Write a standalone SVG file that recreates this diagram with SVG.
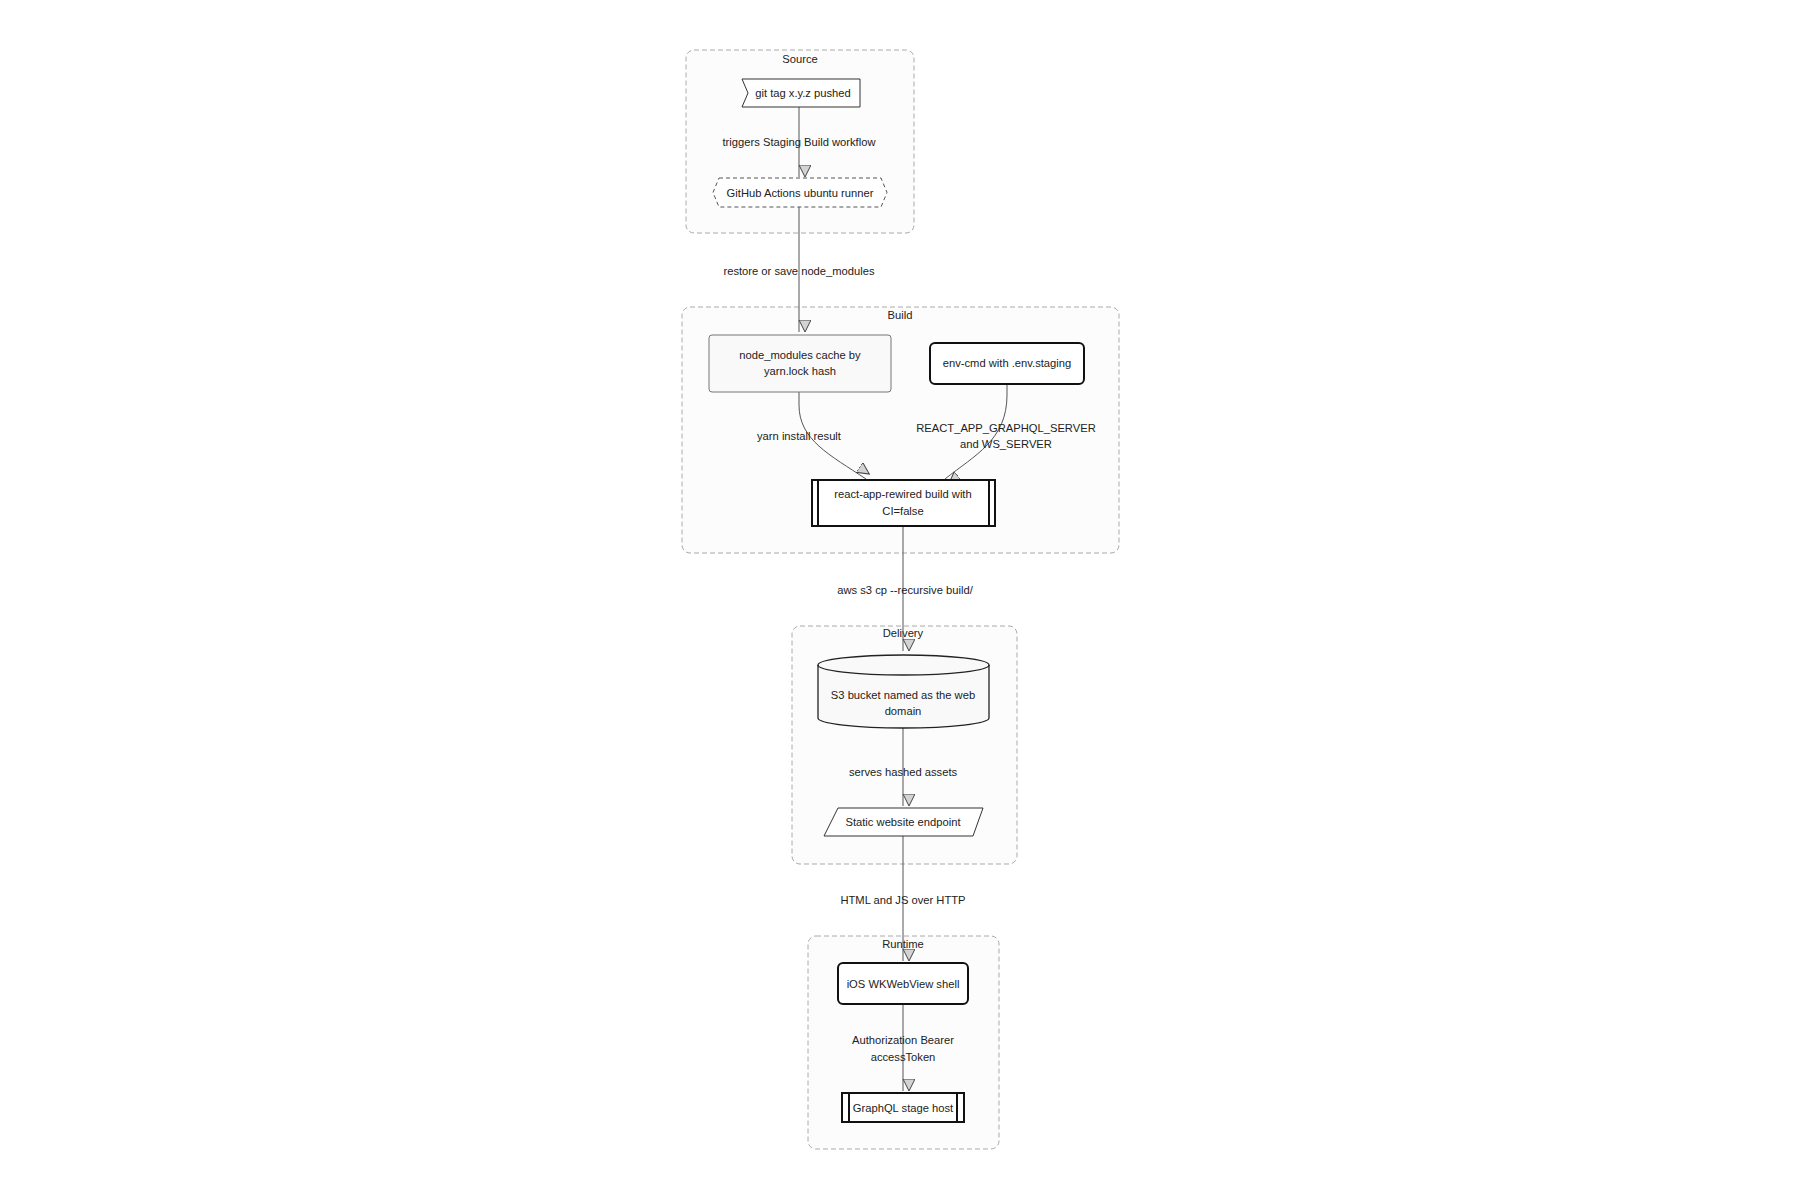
<svg xmlns="http://www.w3.org/2000/svg" width="1800" height="1200" viewBox="0 0 1800 1200">
<defs>
<style>
text{font-family:"Liberation Sans",Arial,sans-serif;font-size:11.2px;fill:#222;text-anchor:middle;dominant-baseline:central}
.cluster rect{fill:#fcfcfc;stroke:#aaa;stroke-width:1;stroke-dasharray:5 3}
.edge{fill:none;stroke:#555;stroke-width:1;marker-end:url(#arr)}
.thin{fill:#fff;stroke:#333;stroke-width:1}
.soft{fill:#f9f9f9;stroke:#777;stroke-width:1}
.thick{fill:#fff;stroke:#111;stroke-width:2}
.dash{fill:#fff;stroke:#555;stroke-width:1;stroke-dasharray:4 3}
.cyl{fill:#f9f9f9;stroke:#222;stroke-width:1.3}
</style>
<marker id="arr" markerUnits="userSpaceOnUse" markerWidth="14" markerHeight="14" viewBox="0 0 14 14" refX="12" refY="12" orient="auto">
<path d="M0,0 L12,6 L0,12 z" fill="#d3d3d3" stroke="#444" stroke-width="1"/>
</marker>
</defs>
<rect width="1800" height="1200" fill="#fff"/>

<g id="clusters">
<g id="cluster-source" class="cluster"><rect x="686" y="50" width="228" height="183" rx="8"/><text x="800" y="59">Source</text></g>
<g id="cluster-build" class="cluster"><rect x="682" y="307" width="437" height="246" rx="8"/><text x="900" y="315">Build</text></g>
<g id="cluster-delivery" class="cluster"><rect x="792" y="626" width="225" height="238" rx="8"/><text x="903" y="633">Delivery</text></g>
<g id="cluster-runtime" class="cluster"><rect x="808" y="936" width="191" height="213" rx="8"/><text x="903" y="944">Runtime</text></g>
</g>

<g id="edges">
<path class="edge" d="M799,107 L799,177"/>
<path class="edge" d="M799,207 L799,332"/>
<path class="edge" d="M799,392 L799,405 C799,440 830,455 866,479"/>
<path class="edge" d="M1007,384 L1007,395 C1007,440 975,455 945,479"/>
<path class="edge" d="M903,526 L903,651"/>
<path class="edge" d="M903,728 L903,806"/>
<path class="edge" d="M903,836 L903,961"/>
<path class="edge" d="M903,1004 L903,1091"/>
</g>

<g id="edge-labels">
<text x="799" y="142">triggers Staging Build workflow</text>
<text x="799" y="271">restore or save node_modules</text>
<text x="799" y="436">yarn install result</text>
<text x="1006" y="428">REACT_APP_GRAPHQL_SERVER</text>
<text x="1006" y="444">and WS_SERVER</text>
<text x="905" y="590">aws s3 cp --recursive build/</text>
<text x="903" y="772">serves hashed assets</text>
<text x="903" y="900">HTML and JS over HTTP</text>
<text x="903" y="1040">Authorization Bearer</text>
<text x="903" y="1057">accessToken</text>
</g>

<g id="node-gittag"><polygon class="thin" points="742,79 860,79 860,107 742,107 748,93"/><text x="803" y="93">git tag x.y.z pushed</text></g>
<g id="node-runner"><polygon class="dash" points="719,178 881,178 887,192.5 881,207 719,207 713,192.5"/><text x="800" y="192.5">GitHub Actions ubuntu runner</text></g>
<g id="node-cache"><rect class="soft" x="709" y="335" width="182" height="57" rx="3"/><text x="800" y="355">node_modules cache by</text><text x="800" y="371">yarn.lock hash</text></g>
<g id="node-envcmd"><rect class="thick" x="930" y="343" width="154" height="41" rx="5"/><text x="1007" y="363">env-cmd with .env.staging</text></g>
<g id="node-build"><rect class="thick" x="812" y="480" width="183" height="46"/><line class="thick" x1="818" y1="480" x2="818" y2="526"/><line class="thick" x1="989" y1="480" x2="989" y2="526"/><text x="903" y="494">react-app-rewired build with</text><text x="903" y="511">CI=false</text></g>
<g id="node-s3"><path class="cyl" d="M818,665 A85.5,10 0 0 1 989,665 L989,718 A85.5,10 0 0 1 818,718 Z"/><path fill="none" stroke="#222" stroke-width="1.3" d="M818,665 A85.5,10 0 0 0 989,665"/><text x="903" y="695">S3 bucket named as the web</text><text x="903" y="711">domain</text></g>
<g id="node-endpoint"><polygon class="thin" points="838,808 983,808 973,836 824,836"/><text x="903" y="822">Static website endpoint</text></g>
<g id="node-ios"><rect class="thick" x="838" y="963" width="130" height="41" rx="5"/><text x="903" y="983.5">iOS WKWebView shell</text></g>
<g id="node-graphql"><rect class="thick" x="842" y="1093" width="122" height="29"/><line class="thick" x1="849" y1="1093" x2="849" y2="1122"/><line class="thick" x1="957" y1="1093" x2="957" y2="1122"/><text x="903" y="1107.5">GraphQL stage host</text></g>
</svg>
